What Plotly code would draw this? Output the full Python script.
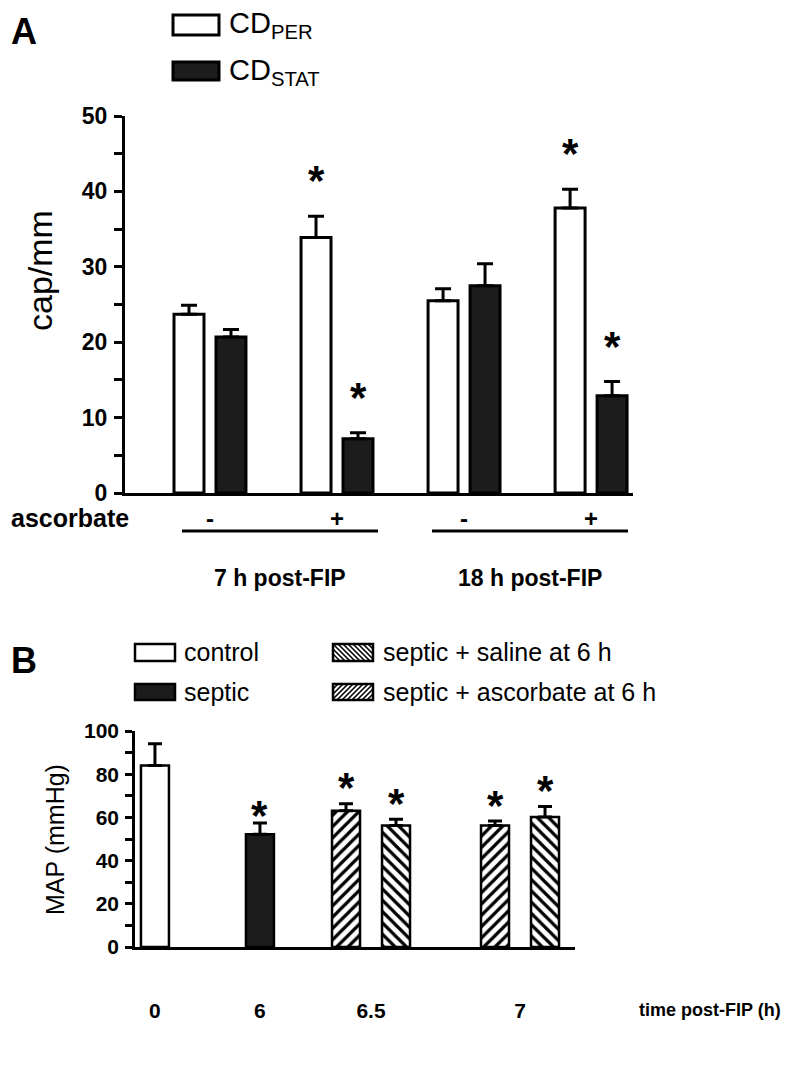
import plotly.graph_objects as go

# ---------------- data ----------------
# Panel A: capillary density (cap/mm)
A_CATS = ["7h -", "7h +", "18h -", "18h +"]
A_ASC_SIGNS = ["-", "+", "-", "+"]
A_GROUPS = ["7 h post-FIP", "18 h post-FIP"]
A_PER = [23.7, 33.9, 25.5, 37.8]
A_PER_ERR = [1.2, 2.8, 1.6, 2.5]
A_PER_SIG = [False, True, False, True]
A_STAT = [20.7, 7.2, 27.5, 12.9]
A_STAT_ERR = [1.0, 0.8, 2.9, 1.9]
A_STAT_SIG = [False, True, False, True]

# Panel B: MAP (mmHg)
B_SINGLE_CATS = ["0", "6"]
B_CONTROL = [84.0]
B_CONTROL_ERR = [10.1]
B_SEPTIC = [52.2]
B_SEPTIC_ERR = [5.2]
B_SEPTIC_SIG = [True]
B_PAIR_CATS = ["6.5", "7"]
B_ASC = [63.1, 56.3]
B_ASC_ERR = [3.2, 2.0]
B_ASC_SIG = [True, True]
B_SAL = [56.3, 60.2]
B_SAL_ERR = [2.9, 4.8]
B_SAL_SIG = [True, True]

# ---------------- layout helpers ----------------
# page has an 8 px body margin: the figure starts at (8, 8) of the window
OFF = 8
W, H = 792 - OFF, 1088 - OFF
FONT = "Liberation Sans, Arial, Helvetica, sans-serif"
def P(x):
    return (x - OFF) / W
def Q(y):
    return 1 - (y - OFF) / H

fig = go.Figure()

# ---------- Panel A bars ----------
A_LEFT, A_RIGHT, A_TOP, A_BOT = 125, 633, 116, 493
A_RANGE = [-0.669, 3.33]
a_unit = (A_RIGHT - A_LEFT) / (A_RANGE[1] - A_RANGE[0])
A_BARGAP = 0.339
A_GROUPGAP = 0.286
a_half = (1 - A_BARGAP) / 4 * a_unit  # px offset of each bar from category center

fig.add_trace(go.Bar(
    x=A_CATS, y=A_PER, name="CD_PER", xaxis="x", yaxis="y",
    marker=dict(color="white", line=dict(color="black", width=3)),
    error_y=dict(type="data", array=A_PER_ERR, arrayminus=[0] * 4, symmetric=False,
                 color="black", thickness=3, width=8),
    showlegend=False, hoverinfo="skip"))
fig.add_trace(go.Bar(
    x=A_CATS, y=A_STAT, name="CD_STAT", xaxis="x", yaxis="y",
    marker=dict(color="#1c1c1c", line=dict(color="black", width=3)),
    error_y=dict(type="data", array=A_STAT_ERR, arrayminus=[0] * 4, symmetric=False,
                 color="black", thickness=3, width=8),
    showlegend=False, hoverinfo="skip"))

annotations = []
STAR_FONT = dict(family=FONT, size=42, color="black", weight="bold")
def star(xref, yref, xi, yv, xshift, yshift):
    return dict(text="*", x=xi, y=yv, xref=xref, yref=yref, xshift=xshift, yshift=yshift,
                showarrow=False, yanchor="middle", xanchor="center", font=STAR_FONT)

for i, (v, e, s) in enumerate(zip(A_PER, A_PER_ERR, A_PER_SIG)):
    if s:
        annotations.append(star("x", "y", i, v + e, -a_half, 36))
for i, (v, e, s) in enumerate(zip(A_STAT, A_STAT_ERR, A_STAT_SIG)):
    if s:
        annotations.append(star("x", "y", i, v + e, a_half, 35))

# ---------- Panel B bars ----------
B_LEFT, B_MID, B_RIGHT, B_TOP, B_BOT = 135, 315, 575, 731, 947
S_UNIT_PX, P_UNIT_PX = 105.0, 149.0
B_S_RANGE = [-0.19, -0.19 + (B_MID - B_LEFT) / S_UNIT_PX]
B_P_RANGE = [-0.376, -0.376 + (B_RIGHT - B_MID) / P_UNIT_PX]
BAR_PX = 28
PAIR_PX = 25
sw = BAR_PX / S_UNIT_PX
pw = BAR_PX / P_UNIT_PX
pc = PAIR_PX / P_UNIT_PX

def ebar(arr):
    return dict(type="data", array=arr, arrayminus=[0] * len(arr), symmetric=False,
                color="black", thickness=3, width=7)

fig.add_trace(go.Bar(
    x=[B_SINGLE_CATS[0]], y=B_CONTROL, name="control", xaxis="x3", yaxis="y2",
    width=sw, offset=-sw / 2,
    marker=dict(color="white", line=dict(color="black", width=2.5)),
    error_y=ebar(B_CONTROL_ERR), showlegend=False, hoverinfo="skip"))
fig.add_trace(go.Bar(
    x=[B_SINGLE_CATS[1]], y=B_SEPTIC, name="septic", xaxis="x3", yaxis="y2",
    width=sw, offset=-sw / 2,
    marker=dict(color="#1c1c1c", line=dict(color="black", width=2.5)),
    error_y=ebar(B_SEPTIC_ERR), showlegend=False, hoverinfo="skip"))
fig.add_trace(go.Bar(
    x=B_PAIR_CATS, y=B_ASC, name="septic + ascorbate at 6 h", xaxis="x4", yaxis="y2",
    width=pw, offset=-pc - pw / 2,
    marker=dict(color="white", line=dict(color="black", width=2.5),
                pattern=dict(shape="/", fgcolor="black", bgcolor="white", size=8, solidity=0.4)),
    error_y=ebar(B_ASC_ERR), showlegend=False, hoverinfo="skip"))
fig.add_trace(go.Bar(
    x=B_PAIR_CATS, y=B_SAL, name="septic + saline at 6 h", xaxis="x4", yaxis="y2",
    width=pw, offset=pc - pw / 2,
    marker=dict(color="white", line=dict(color="black", width=2.5),
                pattern=dict(shape="\\", fgcolor="black", bgcolor="white", size=8, solidity=0.4)),
    error_y=ebar(B_SAL_ERR), showlegend=False, hoverinfo="skip"))

for i, (v, e, s) in enumerate(zip(B_SEPTIC, B_SEPTIC_ERR, B_SEPTIC_SIG)):
    if s:
        annotations.append(star("x3", "y2", B_SINGLE_CATS.index("6") + i, v + e, 0, 8))
for i, (v, e, s) in enumerate(zip(B_ASC, B_ASC_ERR, B_ASC_SIG)):
    if s:
        annotations.append(star("x4", "y2", i, v + e, -PAIR_PX, 16))
for i, (v, e, s) in enumerate(zip(B_SAL, B_SAL_ERR, B_SAL_SIG)):
    if s:
        annotations.append(star("x4", "y2", i, v + e, PAIR_PX, 16))

# ---------- texts ----------
def txt(text, x, y, size, bold=False, xanchor="left", yanchor="middle", angle=0):
    t = f"<b>{text}</b>" if bold else text
    return dict(text=t, x=P(x), y=Q(y), xref="paper", yref="paper", showarrow=False,
                xanchor=xanchor, yanchor=yanchor, textangle=angle,
                font=dict(family=FONT, size=size, color="black"))

annotations += [
    txt("A", 9, 8.5, 36, bold=True, yanchor="top"),
    txt("B", 9, 660, 36, bold=True),
    txt("CD<sub>PER</sub>", 227, 25, 29),
    txt("CD<sub>STAT</sub>", 227, 72, 29),
    txt("cap/mm", 40, 270, 34, angle=-90, xanchor="center", yanchor="middle"),
    txt("ascorbate", 9, 518, 25, bold=True),
    txt(A_GROUPS[0], 280, 578, 23, bold=True, xanchor="center"),
    txt(A_GROUPS[1], 530, 578, 23, bold=True, xanchor="center"),
    txt("control", 182, 652, 25),
    txt("septic", 182, 692, 25),
    txt("septic + saline at 6 h", 381, 652, 25),
    txt("septic + ascorbate at 6 h", 381, 692, 25),
    txt("MAP (mmHg)", 55, 840, 25, angle=-90, xanchor="center", yanchor="middle"),
    txt("time post-FIP (h)", 637, 1010, 18, bold=True),
]

# ---------- decorative shapes (legend swatches, group lines) ----------
shapes = []
def rect(x0, y0, x1, y1, fill, lw=3):
    return dict(type="rect", xref="paper", yref="paper", x0=P(x0), y0=Q(y1), x1=P(x1), y1=Q(y0),
                fillcolor=fill, line=dict(color="black", width=lw), layer="above")

def line(x0, y0, x1, y1, lw=2.5):
    return dict(type="line", xref="paper", yref="paper", x0=P(x0), y0=Q(y0), x1=P(x1), y1=Q(y1),
                line=dict(color="black", width=lw))

def hatch(x0, y0, x1, y1, direction, spacing=5.0, lw=1.6):
    out = []
    w, h = x1 - x0, y1 - y0
    k = -h
    while k < w:
        t_lo, t_hi = max(0.0, -k / h), min(1.0, (w - k) / h)
        if t_lo < t_hi:
            if direction == "/":
                xa, ya = x0 + k + t_lo * h, y1 - t_lo * h
                xb, yb = x0 + k + t_hi * h, y1 - t_hi * h
            else:
                xa, ya = x1 - k - t_lo * h, y1 - t_lo * h
                xb, yb = x1 - k - t_hi * h, y1 - t_hi * h
            out.append(line(xa, ya, xb, yb, lw))
        k += spacing
    return out

shapes.append(rect(173, 15, 219, 35, "white"))
shapes.append(rect(173, 62, 219, 80, "#1c1c1c"))
shapes.append(rect(135, 644, 175, 661, "white", 2.5))
shapes.append(rect(135, 684, 175, 700, "#1c1c1c", 2.5))
shapes += hatch(333, 644, 373, 661, "\\")
shapes.append(rect(333, 644, 373, 661, "rgba(0,0,0,0)", 2.5))
shapes += hatch(333, 684, 373, 700, "/")
shapes.append(rect(333, 684, 373, 700, "rgba(0,0,0,0)", 2.5))
shapes.append(line(182, 531, 378, 531, 3))
shapes.append(line(432, 531, 628, 531, 3))

TICKFONT_A = dict(family=FONT, size=23, color="black", weight="bold")
TICKFONT_B = dict(family=FONT, size=21, color="black", weight="bold")

fig.update_layout(
    width=W, height=H, template="none",
    paper_bgcolor="white", plot_bgcolor="rgba(0,0,0,0)",
    margin=dict(l=0, r=0, t=0, b=0, autoexpand=False),
    barmode="group", bargap=A_BARGAP, bargroupgap=A_GROUPGAP,
    showlegend=False,
    xaxis=dict(domain=[P(A_LEFT), P(A_RIGHT)], anchor="y", type="category",
               categoryorder="array", categoryarray=A_CATS, range=A_RANGE,
               tickmode="array", tickvals=A_CATS, ticktext=A_ASC_SIGNS,
               tickfont=dict(family=FONT, size=24, color="black", weight="bold"),
               ticks="", ticklabelstandoff=2,
               showline=True, linecolor="black", linewidth=3, showgrid=False, zeroline=False,
               automargin=False, fixedrange=True),
    yaxis=dict(domain=[Q(A_BOT), Q(A_TOP)], anchor="x", range=[0, 50],
               tickmode="array", tickvals=[0, 10, 20, 30, 40, 50],
               ticks="outside", ticklen=8, tickwidth=3, tickcolor="black",
               minor=dict(tickmode="array", tickvals=[5, 15, 25, 35, 45], ticks="outside",
                          ticklen=8, tickwidth=3, tickcolor="black", showgrid=False),
               tickfont=TICKFONT_A, ticklabelstandoff=2,
               showline=True, linecolor="black", linewidth=3, showgrid=False, zeroline=False,
               automargin=False, fixedrange=True),
    xaxis3=dict(domain=[P(B_LEFT), P(B_MID)], anchor="y2", type="category",
                categoryorder="array", categoryarray=B_SINGLE_CATS, range=B_S_RANGE,
                tickmode="array", tickvals=B_SINGLE_CATS, ticktext=B_SINGLE_CATS,
                tickfont=TICKFONT_B, ticks="", ticklabelstandoff=43,
                showline=True, linecolor="black", linewidth=3, showgrid=False, zeroline=False,
                automargin=False, fixedrange=True),
    xaxis4=dict(domain=[P(B_MID), P(B_RIGHT)], anchor="y2", type="category",
                categoryorder="array", categoryarray=B_PAIR_CATS, range=B_P_RANGE,
                tickmode="array", tickvals=B_PAIR_CATS, ticktext=B_PAIR_CATS,
                tickfont=TICKFONT_B, ticks="", ticklabelstandoff=43,
                showline=True, linecolor="black", linewidth=3, showgrid=False, zeroline=False,
                automargin=False, fixedrange=True),
    yaxis2=dict(domain=[Q(B_BOT), Q(B_TOP)], anchor="x3", range=[0, 100],
                tickmode="array", tickvals=[0, 20, 40, 60, 80, 100],
                ticks="outside", ticklen=7, tickwidth=2.5, tickcolor="black",
                minor=dict(tickmode="array", tickvals=[10, 30, 50, 70, 90], ticks="outside",
                           ticklen=7, tickwidth=2.5, tickcolor="black", showgrid=False),
                tickfont=TICKFONT_B, ticklabelstandoff=2,
                showline=True, linecolor="black", linewidth=2.5, showgrid=False, zeroline=False,
                automargin=False, fixedrange=True),
    annotations=annotations,
    shapes=shapes,
)

fig.write_html("out.html")
